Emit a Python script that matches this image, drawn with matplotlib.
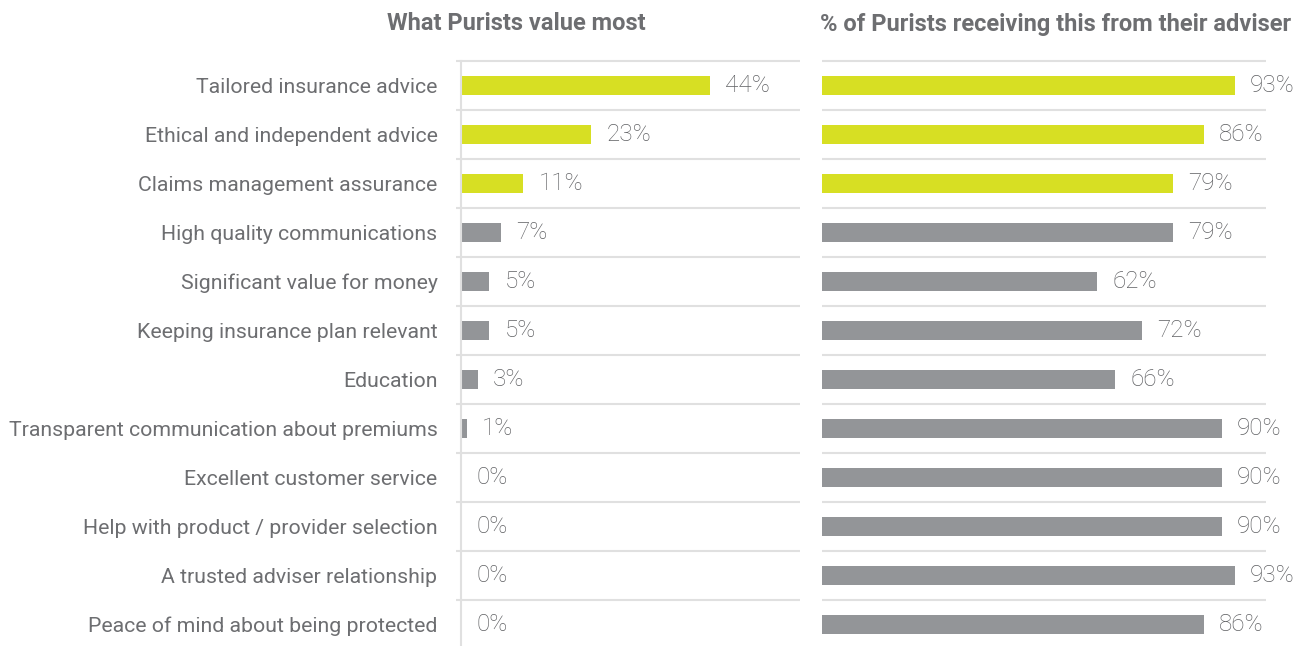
import matplotlib.pyplot as plt
import numpy as np

# Datos
categories = [
    "Tailored insurance advice",
    "Ethical and independent advice",
    "Claims management assurance",
    "High quality communications",
    "Significant value for money",
    "Keeping insurance plan relevant",
    "Education",
    "Transparent communication about premiums",
    "Excellent customer service",
    "Help with product / provider selection",
    "A trusted adviser relationship",
    "Peace of mind about being protected",
]
value_most = [44, 23, 11, 7, 5, 5, 3, 1, 0, 0, 0, 0]
receiving = [93, 86, 79, 79, 62, 72, 66, 90, 90, 90, 93, 86]
n_highlight = 3

title_left = "What Purists value most"
title_right = "% of Purists receiving this from their adviser"

YELLOW = "#d7df23"
GREY = "#939598"
GRID = "#e0e0e0"
TEXT = "#6d6e71"
VALUE_TEXT = "#5f6063"

plt.rcParams["font.family"] = ["Roboto", "DejaVu Sans"]

fig = plt.figure(figsize=(13.14, 6.46), dpi=100)
W, H = 1314, 646

# posiciones en píxeles -> fracciones
top_px, bot_px = 61, 646
ax_l = fig.add_axes([461 / W, 0, (800 - 461) / W, (bot_px - top_px) / H])
ax_r = fig.add_axes([822 / W, 0, (1266 - 822) / W, (bot_px - top_px) / H])

n = len(categories)
y = np.arange(n)
rows = (bot_px - top_px) / 49.0
colors = [YELLOW if i < n_highlight else GREY for i in range(n)]


def style_panel(ax, xmax, grid_xmin):
    ax.set_xlim(0, xmax)
    ax.set_ylim(-0.5 + rows, -0.5)
    for s in ax.spines.values():
        s.set_visible(False)
    ax.set_xticks([])
    ax.hlines(np.arange(n) - 0.5, grid_xmin, xmax, color=GRID, lw=1.5,
              clip_on=False, zorder=0)


def add_values(ax, vals):
    for yi, v in zip(y, vals):
        ax.annotate(f"{v}%", (v, yi), xytext=(11, 0), textcoords="offset points",
                    va="center", ha="left", fontsize=17.5, color=VALUE_TEXT,
                    fontweight="light")


# --- Panel izquierdo ---
ax_l.barh(y, value_most, height=0.37, color=colors, zorder=2)
style_panel(ax_l, 60, -0.9)
ax_l.spines["left"].set_visible(True)
ax_l.spines["left"].set_color(GRID)
ax_l.spines["left"].set_linewidth(1.5)
ax_l.set_yticks(y)
ax_l.set_yticklabels(categories, fontsize=15.3, color=TEXT)
ax_l.tick_params(axis="y", length=0, pad=17)
add_values(ax_l, value_most)
ax_l.text(0.162, 1.0 + 37 / (bot_px - top_px), title_left, transform=ax_l.transAxes,
          ha="center", va="center", fontsize=17, fontweight="bold", color=TEXT)

# --- Panel derecho ---
ax_r.barh(y, receiving, height=0.37, color=colors, zorder=2)
style_panel(ax_r, 100, 0)
ax_r.set_yticks([])
add_values(ax_r, receiving)
ax_r.text(0.527, 1.0 + 37 / (bot_px - top_px), title_right, transform=ax_r.transAxes,
          ha="center", va="center", fontsize=17, fontweight="bold", color=TEXT)

fig.savefig("out.png", dpi=100)
